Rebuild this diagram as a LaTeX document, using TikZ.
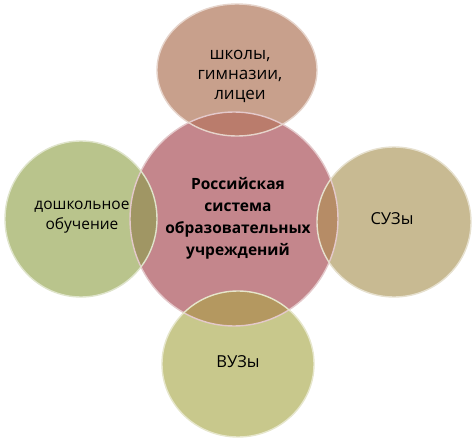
\documentclass[tikz,border=0pt]{standalone}
\usepackage{fontspec}
\setmainfont{Open Sans}
\definecolor{cMain}{RGB}{196,134,140}
\definecolor{cTop}{RGB}{200,160,140}
\definecolor{cLeft}{RGB}{185,196,140}
\definecolor{cRight}{RGB}{200,186,146}
\definecolor{cBot}{RGB}{200,200,140}
\definecolor{oTop}{RGB}{186,124,108}
\definecolor{oLeft}{RGB}{160,150,100}
\definecolor{oRight}{RGB}{182,140,102}
\definecolor{oBot}{RGB}{180,152,96}
\tikzset{
  rim/.style={draw=white!55!#1, line width=1.4pt},
  lbl/.style={align=center, text=black, font=\fontsize{#1}{20}\selectfont},
  lbl/.default=16.5,
  mainlbl/.style={align=center, text=black, font=\bfseries\fontsize{15.5}{22}\selectfont},
}
\begin{document}
\begin{tikzpicture}[x=1pt,y=-1pt]
\useasboundingbox (0,0) rectangle (474,441);
% central circle
\fill[cMain] (234,219) ellipse [x radius=104pt, y radius=107pt];
% outer circles
\fill[cTop]   (237,70)  ellipse [x radius=80pt, y radius=66pt];
\fill[cLeft]  (81,219)  ellipse [x radius=76pt, y radius=78pt];
\fill[cRight] (394,222) ellipse [x radius=77pt, y radius=75pt];
\fill[cBot]   (238,364) ellipse [x radius=76pt, y radius=73pt];
% overlaps
\begin{scope}
  \clip (234,219) ellipse [x radius=104pt, y radius=107pt];
  \fill[oTop]   (237,70)  ellipse [x radius=80pt, y radius=66pt];
  \fill[oLeft]  (81,219)  ellipse [x radius=76pt, y radius=78pt];
  \fill[oRight] (394,222) ellipse [x radius=77pt, y radius=75pt];
  \fill[oBot]   (238,364) ellipse [x radius=76pt, y radius=73pt];
\end{scope}
% rims
\path[rim=cMain]  (234,219) ellipse [x radius=104pt, y radius=107pt];
\path[rim=cTop]   (237,70)  ellipse [x radius=80pt, y radius=66pt];
\path[rim=cLeft]  (81,219)  ellipse [x radius=76pt, y radius=78pt];
\path[rim=cRight] (394,222) ellipse [x radius=77pt, y radius=75pt];
\path[rim=cBot]   (238,364) ellipse [x radius=76pt, y radius=73pt];
% labels
\node[mainlbl] (main) at (238,218) {Российская\\система\\образовательных\\учреждений};
\node[lbl=17] (schools) at (240,76) {школы,\\гимназии,\\лицеи};
\node[lbl=15.5] (preschool) at (82,217) {дошкольное\\обучение};
\node[lbl] (suz) at (392,219) {СУЗы};
\node[lbl] (vuz) at (238,362) {ВУЗы};
\end{tikzpicture}
\end{document}
